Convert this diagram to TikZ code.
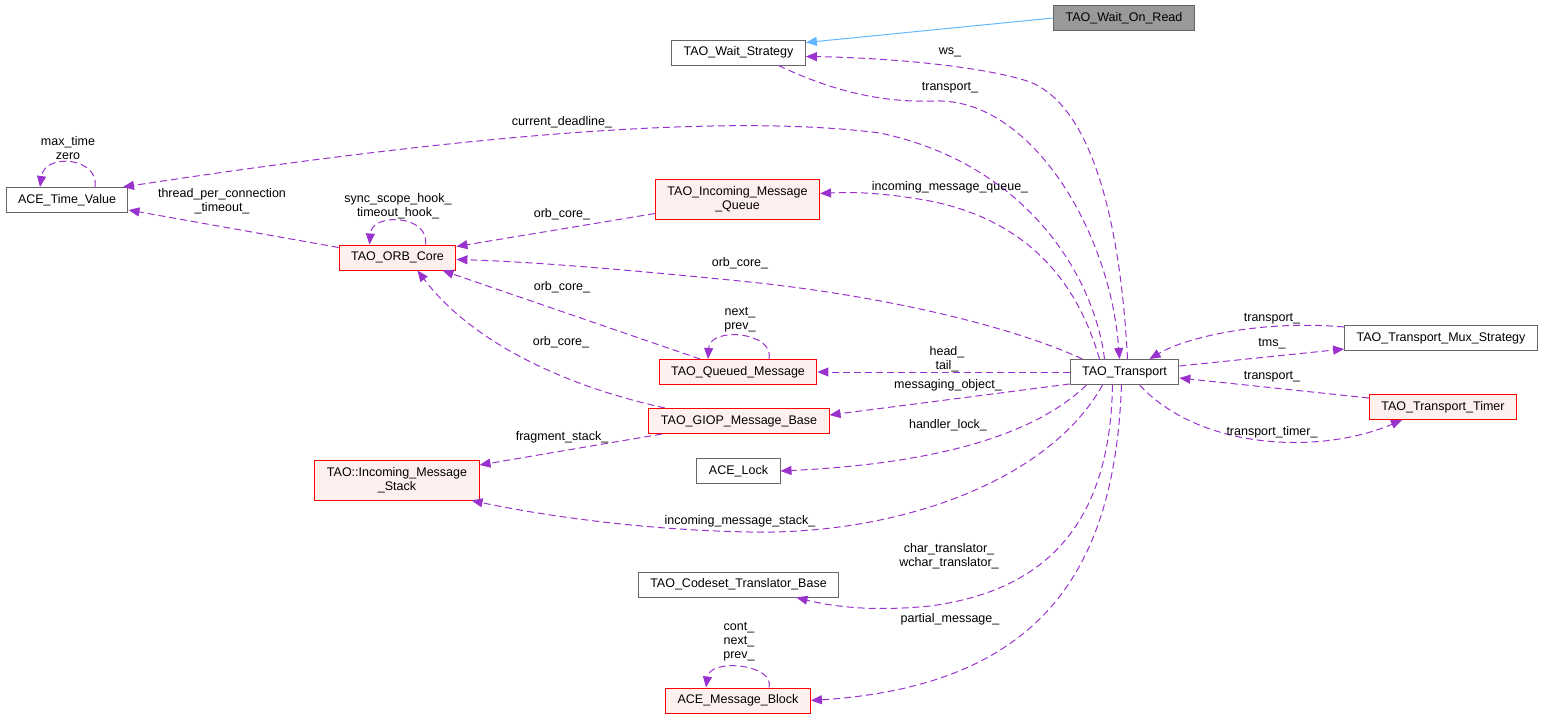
\documentclass[tikz,border=0pt]{standalone}
\usepackage{fontspec}
\setmainfont{Liberation Sans}
\usetikzlibrary{arrows.meta}
\definecolor{myorchid}{HTML}{9A32CD}
\definecolor{myblue}{HTML}{63B8FF}
\definecolor{mygray}{HTML}{666666}
\definecolor{mygrayfill}{HTML}{999999}
\definecolor{mypink}{HTML}{FFF0F0}
\tikzset{
  cls/.style={draw=mygray, fill=white, line width=1pt, inner xsep=12pt, inner ysep=0pt, minimum height=25pt, font=\fontsize{12.5}{14}\selectfont, align=center},
  clsred/.style={cls, draw=red, fill=mypink},
  clscur/.style={cls, fill=mygrayfill},
  usage/.style={draw=myorchid, dash pattern=on 7pt off 4pt, line width=1pt, -{Triangle[length=11pt,width=9pt]}},
  inh/.style={draw=myblue, line width=1pt, -{Triangle[length=11pt,width=9pt]}},
  lbl/.style={font=\fontsize{12.5}{14}\selectfont, align=center, inner sep=0pt}
}
\begin{document}
\begin{tikzpicture}[x=1pt, y=-1pt]
\useasboundingbox (0,0) rectangle (1545,720);

%----------CLASSES-------------%
\draw (1124,18) node [clscur] (wor) {TAO\_Wait\_On\_Read};
\draw (738.5,52.5) node [cls] (ws) {TAO\_Wait\_Strategy};
\draw (67,200) node [cls] (tv) {ACE\_Time\_Value};
\draw (397.5,257.5) node [clsred] (orb) {TAO\_ORB\_Core};
\draw (737.5,199.5) node [clsred, minimum height=40pt] (imq) {TAO\_Incoming\_Message\\\_Queue};
\draw (738,372) node [clsred] (qm) {TAO\_Queued\_Message};
\draw (739,421) node [clsred] (giop) {TAO\_GIOP\_Message\_Base};
\draw (397,480) node [clsred, minimum height=40pt] (ims) {TAO::Incoming\_Message\\\_Stack};
\draw (738.5,471) node [cls] (lock) {ACE\_Lock};
\draw (738.5,584.5) node [cls] (cod) {TAO\_Codeset\_Translator\_Base};
\draw (738,700.5) node [clsred] (mb) {ACE\_Message\_Block};
\draw (1124.5,372) node [cls] (tr) {TAO\_Transport};
\draw (1441,338) node [cls] (mux) {TAO\_Transport\_Mux\_Strategy};
\draw (1443,407) node [clsred] (timer) {TAO\_Transport\_Timer};

%----------INHERITANCE-------------%
\draw[inh] (wor.west) -- ([yshift=10]ws.east);

%----------MEMBER LINKS-------------%
\draw[usage]
([xshift=3]tr.north) .. controls (1122,250) and (1100,110) .. (1030,82) .. controls (990,68) and (900,58) .. ([yshift=-4]ws.east);
\draw[usage]
([xshift=40]ws.south) .. controls (830,90) and (880,103) .. (935,101) .. controls (1030,98) and (1110,230) .. ([xshift=-5]tr.north);
\draw[usage]
([xshift=-20]tr.north) .. controls (1095,280) and (1030,165) .. (880,133) .. controls (700,110) and (400,145) .. ([xshift=56]tv.north);
\draw[usage]
([xshift=-25]tr.north) .. controls (1085,310) and (1050,225) .. (930,201) .. controls (880,192) and (850,192) .. ([yshift=6]imq.east);
\draw[usage]
([xshift=-42]tr.north) .. controls (1020,330) and (900,298) .. (750,282) .. controls (640,271) and (540,262) .. ([yshift=-2]orb.east);
\draw[usage]
(tr.west) -- (qm.east);
\draw[usage]
([yshift=-12]tr.west) -- ([yshift=6]giop.east);
\draw[usage]
([xshift=-38]tr.south) .. controls (1040,430) and (950,463) .. (lock.east);
\draw[usage]
([xshift=-22]tr.south) .. controls (1050,480) and (900,535) .. (750,532) .. controls (640,530) and (540,515) .. ([xshift=-8]ims.south east);
\draw[usage]
([xshift=-12]tr.south) .. controls (1110,520) and (1050,590) .. (930,606) .. controls (870,612) and (830,606) .. ([xshift=58]cod.south);
\draw[usage]
([xshift=-3]tr.south) .. controls (1115,560) and (1050,685) .. (mb.east);
\draw[usage]
([yshift=11]mux.west) .. controls (1270,320) and (1190,335) .. ([xshift=25]tr.north);
\draw[usage]
([yshift=6]tr.east) -- ([yshift=-11]mux.west);
\draw[usage]
([yshift=9]timer.west) -- ([yshift=-6]tr.east);
\draw[usage]
([xshift=15]tr.south) .. controls (1200,450) and (1320,455) .. ([xshift=-41]timer.south);
\draw[usage]
([yshift=-14]imq.west) -- ([yshift=11]orb.east);
\draw[usage]
([yshift=10]orb.west) -- ([yshift=-10]tv.east);
\draw[usage]
([xshift=-38]qm.north) -- ([xshift=45]orb.south);
\draw[usage]
([xshift=-74]giop.north) .. controls (560,385) and (470,340) .. ([xshift=20]orb.south);
\draw[usage]
([xshift=-77]giop.south) -- ([yshift=15]ims.east);

%----------SELF LINKS-------------%
\draw[usage]
([xshift=28]orb.north) .. controls (430,215) and (372,212) .. ([xshift=-28]orb.north);
\draw[usage]
([xshift=28]tv.north) .. controls (100,158) and (45,152) .. ([xshift=-27]tv.north);
\draw[usage]
([xshift=31]qm.north) .. controls (775,332) and (710,326) .. ([xshift=-30]qm.north);
\draw[usage]
([xshift=31]mb.north) .. controls (775,664) and (710,658) .. ([xshift=-32]mb.north);

%--------LABELS-----------%
\draw (950,52) node [lbl] (l-ws) {ws\_};
\draw (950,88) node [lbl] (l-wstr) {transport\_};
\draw (562,122) node [lbl] (l-dl) {current\_deadline\_};
\draw (950,187) node [lbl] (l-imq) {incoming\_message\_queue\_};
\draw (740,263) node [lbl] (l-trorb) {orb\_core\_};
\draw (947,359) node [lbl] (l-qm) {head\_\\tail\_};
\draw (948,385) node [lbl] (l-giop) {messaging\_object\_};
\draw (948,425) node [lbl] (l-lock) {handler\_lock\_};
\draw (740,521) node [lbl] (l-ims) {incoming\_message\_stack\_};
\draw (949,556) node [lbl] (l-cod) {char\_translator\_\\wchar\_translator\_};
\draw (950,619) node [lbl] (l-mb) {partial\_message\_};
\draw (1272,319) node [lbl] (l-muxtr) {transport\_};
\draw (1272,344) node [lbl] (l-tms) {tms\_};
\draw (1272,377) node [lbl] (l-timertr) {transport\_};
\draw (1272,432) node [lbl] (l-timer) {transport\_timer\_};
\draw (562,214) node [lbl] (l-imqorb) {orb\_core\_};
\draw (222,201) node [lbl] (l-tpc) {thread\_per\_connection\\\_timeout\_};
\draw (398,206) node [lbl] (l-hook) {sync\_scope\_hook\_\\timeout\_hook\_};
\draw (68,148) node [lbl] (l-tv) {max\_time\\zero};
\draw (562,287) node [lbl] (l-qmorb) {orb\_core\_};
\draw (740,320) node [lbl] (l-qmself) {next\_\\prev\_};
\draw (561,342) node [lbl] (l-giopborb) {orb\_core\_};
\draw (562,437) node [lbl] (l-frag) {fragment\_stack\_};
\draw (739,642) node [lbl] (l-mbself) {cont\_\\next\_\\prev\_};

\end{tikzpicture}
\end{document}
